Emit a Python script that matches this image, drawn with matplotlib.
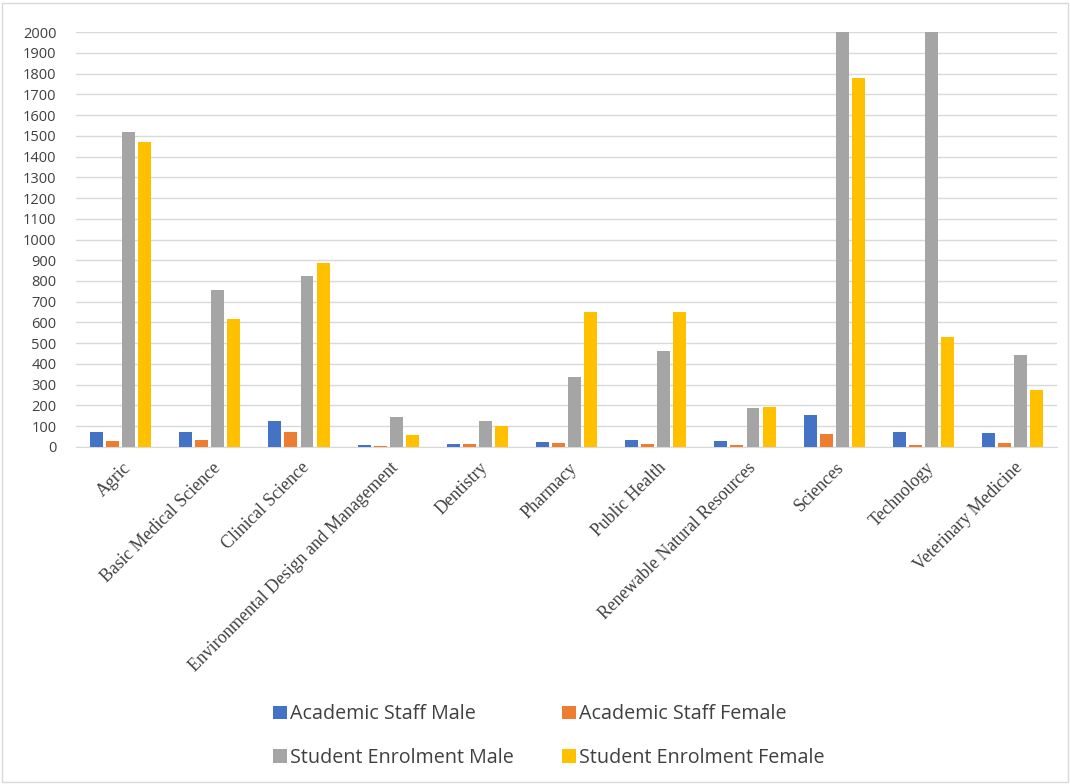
import numpy as np
import matplotlib.pyplot as plt
from matplotlib.patches import Rectangle

faculties = ["Agric", "Basic Medical Science", "Clinical Science",
             "Environmental Design and Management", "Dentistry", "Pharmacy",
             "Public Health", "Renewable Natural Resources", "Sciences",
             "Technology", "Veterinary Medicine"]
staff_male = [72, 71, 126, 10, 12, 22, 35, 28, 154, 72, 67]
staff_female = [29, 35, 72, 5, 15, 20, 12, 8, 63, 10, 20]
student_male = [1520, 755, 825, 143, 123, 335, 460, 188, 2600, 2600, 445]
student_female = [1470, 618, 885, 58, 103, 650, 650, 190, 1780, 530, 275]

series = [("Academic Staff Male", staff_male, "#4472c4"),
          ("Academic Staff Female", staff_female, "#ed7d31"),
          ("Student Enrolment Male", student_male, "#a5a5a5"),
          ("Student Enrolment Female", student_female, "#ffc000")]

fig = plt.figure(figsize=(10.7, 7.84), dpi=100)
ax = fig.add_axes([0.071, 0.430, 0.917, 0.529])

x = np.arange(len(faculties))
step = 0.18
width = 0.145
for i, (name, vals, col) in enumerate(series):
    ax.bar(x + (i - 1.5) * step, vals, width, color=col, label=name, zorder=3)

ax.set_xlim(-0.5, len(faculties) - 0.5)
ax.set_ylim(0, 2000)
ax.set_yticks(range(0, 2001, 100))
ax.grid(axis="y", color="#d9d9d9", lw=1, zorder=0)
for s in ["top", "right", "left"]:
    ax.spines[s].set_visible(False)
ax.spines["bottom"].set_color("#d9d9d9")
ax.tick_params(axis="both", length=0)
ax.tick_params(axis="y", pad=14, labelsize=10.5, labelcolor="#404040")
for t in ax.get_yticklabels():
    t.set_fontfamily("Open Sans")

ax.set_xticks(x + 0.02)
ax.set_xticklabels(faculties, rotation=45, ha="right", rotation_mode="anchor",
                   family="Liberation Serif", fontsize=12.8, color="#404040")
ax.tick_params(axis="x", pad=9)

handles, labels = ax.get_legend_handles_labels()
order = [0, 2, 1, 3]
leg = fig.legend([handles[k] for k in order], [labels[k] for k in order],
                 loc="center", bbox_to_anchor=(0.513, 0.061),
                 ncol=2, frameon=False, handlelength=0.7,
                 handleheight=0.7, handletextpad=0.2, columnspacing=2.4,
                 labelspacing=1.2, prop={"family": "Open Sans", "size": 14.2})
for t in leg.get_texts():
    t.set_color("#404040")

fig.patches.append(Rectangle((0.002, 0.002), 0.996, 0.994, transform=fig.transFigure,
                             fill=False, edgecolor="#d9d9d9", lw=1))

plt.savefig("out.png", dpi=100)
